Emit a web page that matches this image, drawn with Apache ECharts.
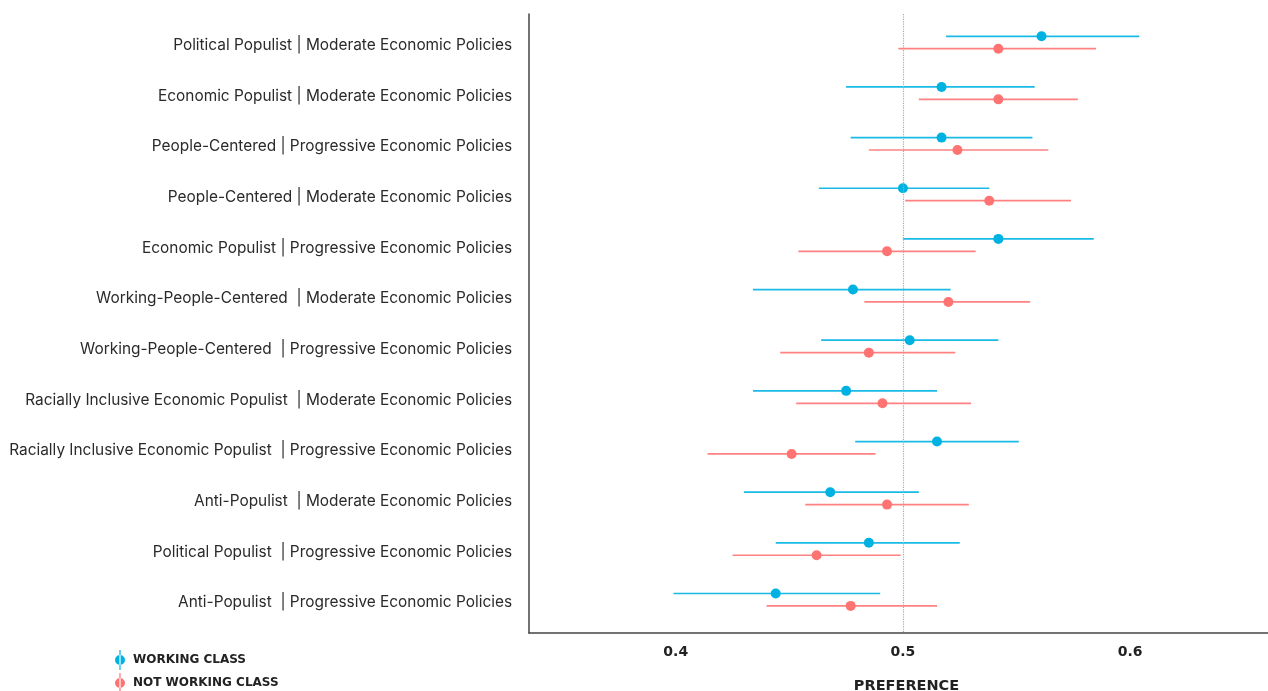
<!DOCTYPE html>
<html>
<head>
<meta charset="utf-8">
<script src="https://cdn.jsdelivr.net/npm/echarts@6/dist/echarts.min.js"></script>
<style>
html,body{margin:0;padding:0;background:#fff;}
#chart{width:1268px;height:691px;}
</style>
</head>
<body>
<div id="chart"></div>
<script>
const categories = [
  "Political Populist | Moderate Economic Policies",
  "Economic Populist | Moderate Economic Policies",
  "People-Centered | Progressive Economic Policies",
  "People-Centered | Moderate Economic Policies",
  "Economic Populist | Progressive Economic Policies",
  "Working-People-Centered  | Moderate Economic Policies",
  "Working-People-Centered  | Progressive Economic Policies",
  "Racially Inclusive Economic Populist  | Moderate Economic Policies",
  "Racially Inclusive Economic Populist  | Progressive Economic Policies",
  "Anti-Populist  | Moderate Economic Policies",
  "Political Populist  | Progressive Economic Policies",
  "Anti-Populist  | Progressive Economic Policies"
];
const seriesNames = ["WORKING CLASS", "NOT WORKING CLASS"];
const wcMean  = [0.561, 0.517, 0.517, 0.500, 0.542, 0.478, 0.503, 0.475, 0.515, 0.468, 0.485, 0.444];
const wcLow   = [0.519, 0.475, 0.477, 0.463, 0.500, 0.434, 0.464, 0.434, 0.479, 0.430, 0.444, 0.399];
const wcHigh  = [0.604, 0.558, 0.557, 0.538, 0.584, 0.521, 0.542, 0.515, 0.551, 0.507, 0.525, 0.490];
const nwcMean = [0.542, 0.542, 0.524, 0.538, 0.493, 0.520, 0.485, 0.491, 0.451, 0.493, 0.462, 0.477];
const nwcLow  = [0.498, 0.507, 0.485, 0.501, 0.454, 0.483, 0.446, 0.453, 0.414, 0.457, 0.425, 0.440];
const nwcHigh = [0.585, 0.577, 0.564, 0.574, 0.532, 0.556, 0.523, 0.530, 0.488, 0.529, 0.499, 0.515];
const xTicks = [0.4, 0.5, 0.6];
const referenceValue = 0.5;

const BLUE = '#00B2E2';
const RED = '#FF7373';
const dodge = [-0.18, 0.065];
const legendIcon = 'path://M4.4,0h1.2v20h-1.2z M0,10a5,5 0 1,0 10,0a5,5 0 1,0 -10,0z';

function rangeData(lo, hi, off) {
  return lo.map((v, i) => [v, hi[i], i + off]);
}
function pointData(m, off) {
  return m.map((v, i) => [v, i + off]);
}
function barRender(color) {
  return function (params, api) {
    const a = api.coord([api.value(0), api.value(2)]);
    const b = api.coord([api.value(1), api.value(2)]);
    return {
      type: 'line',
      shape: { x1: a[0], y1: a[1], x2: b[0], y2: b[1] },
      style: { stroke: color, lineWidth: 1.7, opacity: 0.9 }
    };
  };
}

const chart = echarts.init(document.getElementById('chart'), null, { renderer: 'canvas' });
chart.setOption({
  animation: false,
  backgroundColor: '#ffffff',
  grid: { left: 529, right: 0, top: 14, bottom: 58, containLabel: false, outerBoundsMode: 'none' },
  legend: {
    orient: 'vertical',
    left: 115,
    top: 650,
    height: 60,
    padding: 0,
    itemWidth: 16,
    itemHeight: 20,
    itemGap: 3,
    selectedMode: false,
    textStyle: { fontFamily: 'DejaVu Sans', fontWeight: 'bold', fontSize: 12, color: '#222' },
    data: [
      { name: seriesNames[0], icon: legendIcon, itemStyle: { color: BLUE } },
      { name: seriesNames[1], icon: legendIcon, itemStyle: { color: RED } }
    ]
  },
  xAxis: {
    type: 'value',
    min: 0.3354,
    max: 0.6607,
    name: 'PREFERENCE',
    nameLocation: 'middle',
    nameGap: 46,
    nameTextStyle: { fontFamily: 'DejaVu Sans', fontWeight: 'bold', fontSize: 14.5, color: '#222', padding: [0, 0, 0, 16] },
    axisLine: { show: true, onZero: false, lineStyle: { color: '#444', width: 1.5 } },
    axisTick: { show: false },
    splitLine: { show: false },
    axisLabel: {
      customValues: xTicks,
      formatter: v => v.toFixed(1),
      margin: 12,
      fontFamily: 'DejaVu Sans', fontWeight: 'bold', fontSize: 14, color: '#222'
    }
  },
  yAxis: {
    type: 'value',
    inverse: true,
    min: -0.62,
    max: 11.6,
    axisLine: { show: true, onZero: false, lineStyle: { color: '#444', width: 1.5 } },
    axisTick: { show: false },
    splitLine: { show: false },
    axisLabel: {
      customValues: categories.map((c, i) => i),
      formatter: v => categories[Math.round(v)] || '',
      margin: 17,
      fontFamily: 'Inter', fontSize: 15.4, color: '#2a2a2a'
    }
  },
  series: [
    {
      name: seriesNames[1], type: 'custom', renderItem: barRender(RED),
      encode: { x: [0, 1], y: 2 }, data: rangeData(nwcLow, nwcHigh, dodge[1]), z: 2, silent: true
    },
    {
      name: seriesNames[0], type: 'custom', renderItem: barRender(BLUE),
      encode: { x: [0, 1], y: 2 }, data: rangeData(wcLow, wcHigh, dodge[0]), z: 2, silent: true
    },
    {
      name: seriesNames[1], type: 'scatter', symbol: 'circle', symbolSize: 10,
      itemStyle: { color: RED, opacity: 1 }, data: pointData(nwcMean, dodge[1]), z: 4
    },
    {
      name: seriesNames[0], type: 'scatter', symbol: 'circle', symbolSize: 10,
      itemStyle: { color: BLUE, opacity: 1 }, data: pointData(wcMean, dodge[0]), z: 4,
      markLine: {
        silent: true, symbol: 'none', label: { show: false },
        lineStyle: { type: 'dotted', color: '#a8a8a8', width: 1.2 },
        data: [{ xAxis: referenceValue }]
      }
    }
  ]
});
</script>
</body>
</html>
